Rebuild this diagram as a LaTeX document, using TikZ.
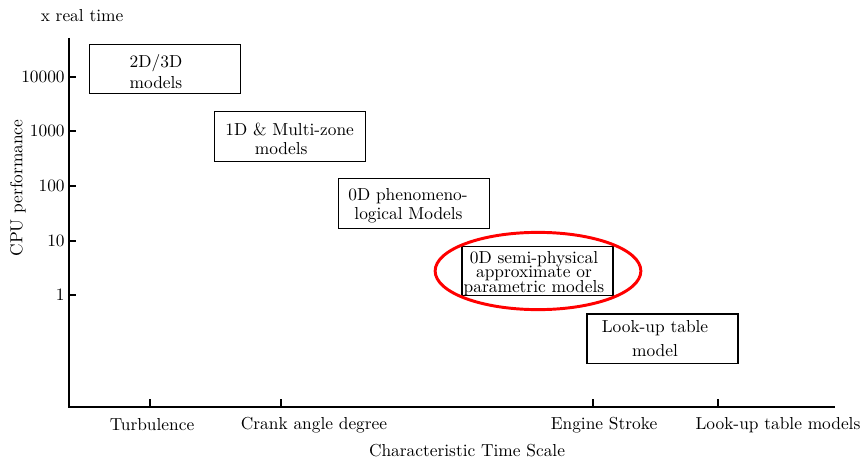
\documentclass[tikz,border=0pt]{standalone}
\usetikzlibrary{shapes.geometric}
\begin{document}
\begin{tikzpicture}[x=0.576pt,y=-0.576pt,
  box/.style={draw, line width=0.85pt, minimum width=87pt, minimum height=28.5pt, inner sep=0pt},
  boxtext/.style={inner sep=0pt},
  axis/.style={line width=1.15pt},
  tick/.style={line width=1pt},
  lbl/.style={inner sep=0pt},
  hl/.style={draw=red, ellipse, line width=1.7pt, minimum width=118.5pt, minimum height=44.5pt, inner sep=0pt}]
\useasboundingbox (0,0) rectangle (860,460);
% axes
\coordinate (ytop) at (69,38);
\coordinate (o) at (69,407);
\coordinate (xend) at (835,407);
\draw[axis] (ytop) -- (o) -- (xend);
% y ticks
\foreach \v/\y in {10000/77,1000/131,100/186,10/241,1/295}{
  \coordinate (ya\v) at (69,\y);
  \coordinate (yb\v) at (76,\y);
  \draw[tick] (ya\v) -- (yb\v);
  \node[lbl, anchor=east] (yl\v) at (65,\y) {\v};
}
% x ticks
\foreach \n/\x in {1/150,2/281,3/593,4/718}{
  \coordinate (xa\n) at (\x,407);
  \coordinate (xb\n) at (\x,399);
  \draw[tick] (xa\n) -- (xb\n);
}
\node[lbl] (xl1) at (152,425) {Turbulence};
\node[lbl] (xl2) at (314,425) {Crank angle degree};
\node[lbl] (xl3) at (604,425) {Engine Stroke};
\node[lbl] (xl4) at (778,425) {Look-up table models};
\node[lbl] (xtitle) at (467,451) {Characteristic Time Scale};
\node[lbl, rotate=90] (ytitle) at (18,188) {CPU performance};
\node[lbl] (unit) at (82,16) {x real time};
% boxes
\node[box] (b1) at (165,69) {};
\node[boxtext, align=center] (t1) at (156,72) {2D/3D\\models};
\node[box] (b2) at (290,136.5) {};
\node[boxtext, align=left, anchor=west] (t2) at (225,138.5) {1D \& Multi-zone\\[-1pt]\hspace*{17pt}models};
\node[box] (b3) at (414,203.5) {};
\node[boxtext, align=left, anchor=west] (t3) at (348,205.5) {0D phenomeno-\\[-1pt]\hspace*{3.5pt}logical Models};
\node[box] (b4) at (537.5,271) {};
\node[boxtext, align=center] (t4) at (534,273.5) {0D semi-physical\\[-3.8pt]approximate or\\[-3.8pt]parametric models};
\node[box] (b5) at (662.5,338.5) {};
\node[boxtext, align=center] (t5) at (655,339) {Look-up table\\[1.8pt]model};
% highlight
\node[hl] (ring) at (538,271) {};
\end{tikzpicture}
\end{document}
